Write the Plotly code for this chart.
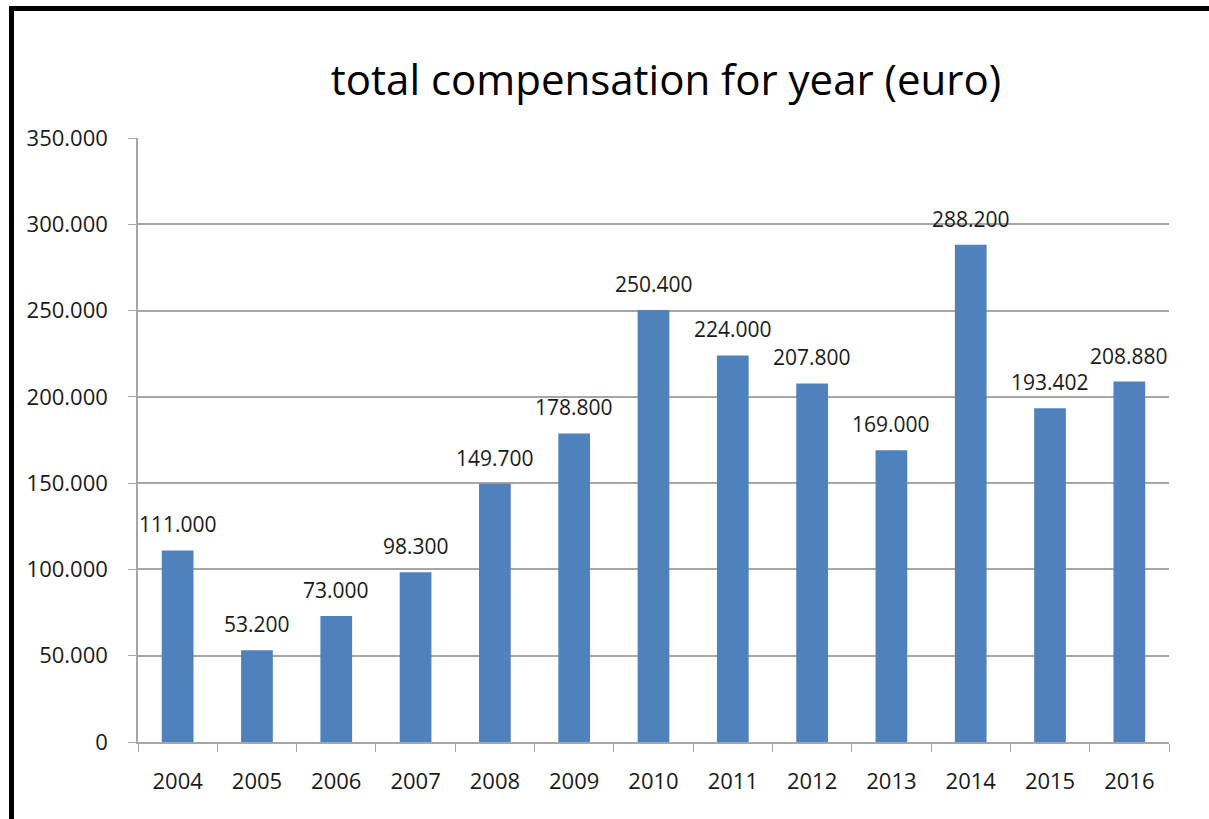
import plotly.graph_objects as go

years = ["2004", "2005", "2006", "2007", "2008", "2009", "2010",
         "2011", "2012", "2013", "2014", "2015", "2016"]
compensation = [111000, 53200, 73000, 98300, 149700, 178800, 250400,
                224000, 207800, 169000, 288200, 193402, 208880]
y_ticks = [0, 50000, 100000, 150000, 200000, 250000, 300000, 350000]

W, H = 1209, 819
L, R, T, B = 138, 40, 138, 77
pw, ph = W - L - R, H - T - B

def px_x(x):
    return (x - L) / pw

def px_y(y):
    return (H - B - y) / ph

font_family = "Open Sans, Liberation Sans, sans-serif"
text_color = "#1a1a1a"
grid_color = "#a6a6a6"

fig = go.Figure(go.Bar(
    x=years,
    y=compensation,
    marker=dict(color="#4F81BD", line=dict(width=0)),
    hoverinfo="x+y",
))

# value labels above each bar (category index positions on the x axis)
for i, v in enumerate(compensation):
    fig.add_annotation(
        x=i, y=v, xref="x", yref="y",
        text=f"{v:,}".replace(",", "."),
        showarrow=False,
        yanchor="middle", yshift=26,
        font=dict(family=font_family, size=21, color=text_color),
    )

fig.update_layout(
    width=W, height=H,
    margin=dict(l=L, r=R, t=T, b=B, autoexpand=False),
    paper_bgcolor="white",
    plot_bgcolor="white",
    separators=",.",
    bargap=0.6,
    showlegend=False,
    title=dict(
        text="total compensation for year (euro)",
        x=px_x(666), xref="paper", xanchor="center",
        y=1 - 80 / H, yanchor="middle",
        font=dict(family=font_family, size=42, color="black"),
    ),
    font=dict(family=font_family, color=text_color),
)

fig.update_xaxes(
    type="category",
    range=[-0.5, len(years) - 0.5],
    showline=True, linecolor=grid_color, linewidth=1.5,
    ticks="outside", tickson="boundaries", ticklen=8, tickcolor=grid_color,
    tickfont=dict(size=22, color=text_color),
    tickangle=0,
    ticklabelstandoff=19,
    showgrid=False,
)
fig.update_yaxes(
    range=[0, 350000],
    tickvals=y_ticks,
    tickformat=",d",
    showline=True, linecolor=grid_color, linewidth=1.5,
    ticks="outside", ticklen=8, tickcolor=grid_color,
    tickfont=dict(size=22, color=text_color),
    ticklabelstandoff=16,
    showgrid=True, gridcolor=grid_color, gridwidth=1.5,
    zeroline=False,
)

# black frame around the chart
fig.add_shape(
    type="rect", xref="paper", yref="paper",
    x0=px_x(11.5), x1=px_x(W + 10), y0=px_y(H + 10), y1=px_y(8.5),
    line=dict(color="black", width=5),
    fillcolor="rgba(0,0,0,0)",
    layer="above",
)

fig.write_html("out.html")
